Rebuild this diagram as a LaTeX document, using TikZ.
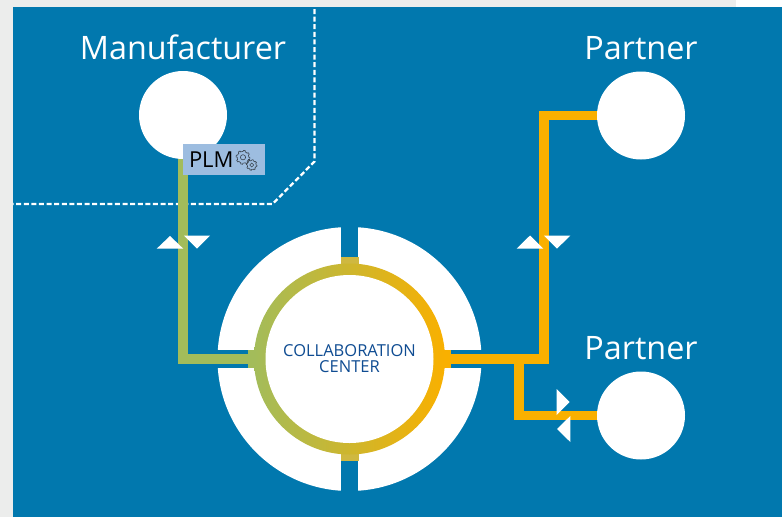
\documentclass[tikz,border=0pt]{standalone}
\usepackage{fontspec}
\setmainfont{Open Sans}
\usetikzlibrary{calc,positioning}
\definecolor{seablue}{HTML}{0178AE}
\definecolor{pagegray}{HTML}{ECEDEC}
\definecolor{limegreen}{HTML}{A3BC5A}
\definecolor{amber}{HTML}{F9B000}
\definecolor{midgold}{HTML}{CFB840}
\definecolor{plmblue}{HTML}{9DBDE0}
\definecolor{inkblue}{HTML}{0F4C92}
\definecolor{gearink}{HTML}{3A4550}
\tikzset{
  site/.style={circle,fill=white,inner sep=0pt,minimum size=88pt},
  heading/.style={text=white,font=\fontsize{32.3}{36}\selectfont,inner sep=0pt},
  wire/.style={line width=9.2pt},
  stub/.style={line width=18pt},
  border line/.style={white,line width=2.3pt,dash pattern=on 5pt off 2.6pt},
  tip/.style={fill=white}
}
\newcommand{\gearicon}[3]{%
  \filldraw[gearink,fill=plmblue,line width=.6pt] plot[samples=97,domain=0:360] ({#1+#3*(1+.2*(sin(8*\x)>0))*cos(\x)},{#2+#3*(1+.2*(sin(8*\x)>0))*sin(\x)}) -- cycle;
  \draw[gearink,line width=.6pt] (#1,#2) circle[radius=#3*.45];
}
\begin{document}
\begin{tikzpicture}[x=1pt,y=-1pt]
\useasboundingbox (0,0) rectangle (782,517);
% page and sea
\fill[pagegray] (0,0) rectangle (736,517);
\fill[white] (736,0) rectangle (782,7);
\fill[seablue] (13,7) rectangle (782,517);
% boundary of the manufacturer
\coordinate (bndtop) at (314.5,9);
\coordinate (bndcorner) at (314.5,161.5);
\coordinate (bndfoot) at (272.5,204);
\coordinate (bndleft) at (13,204);
\draw[border line] (bndtop) -- (bndcorner) -- (bndfoot) -- (bndleft);
% white quarters
\fill[white] (349.5,359) circle[radius=132];
\fill[seablue] (340.7,220) rectangle (358.3,500);
\fill[seablue] (210,350) rectangle (490,368);
% stubs of the ring
\draw[stub,midgold] (349.5,257) -- (349.5,461);
\draw[stub,limegreen] (247.5,359) -- (300,359);
\draw[stub,amber] (400,359) -- (451,359);
% nodes
\node[circle,inner sep=0pt,minimum size=191pt,left color=limegreen,right color=amber] (hub) at (349.5,359) {};
\node[circle,fill=white,inner sep=0pt,minimum size=168pt,align=center,text=inkblue,font=\fontsize{16.5}{16}\selectfont] (core) at (349.5,359) {COLLABORATION\\CENTER};
\node[site] (mfr) at (183,115) {};
\node[site] (partnertop) at (641,115.5) {};
\node[site] (partnerlow) at (641,415.5) {};
\node[heading,above=11pt of mfr] (mfrname) {Manufacturer};
\node[heading,above=11pt of partnertop] (topname) {Partner};
\node[heading,above=11pt of partnerlow] (lowname) {Partner};
% connectors
\coordinate (junction) at (544,359);
\coordinate (branch) at (519,359);
\draw[wire,limegreen] (mfr) |- (hub);
\draw[wire,amber] (hub) -- (junction) |- (partnertop);
\draw[wire,amber] (branch) |- (partnerlow);
% PLM box
\node[fill=plmblue,minimum width=82pt,minimum height=31pt,inner sep=0pt] (plm) at (224,159.5) {};
\node[right=6pt of plm.west,inner sep=0pt,text=black,font=\fontsize{22}{24}\selectfont] (plmtext) {PLM};
\gearicon{243}{157.3}{5.8}
\gearicon{251.7}{165}{4.4}
% direction tips
\fill[tip] (156.7,248.7) -- (170,236) -- (183.3,248.7) -- cycle;
\fill[tip] (184,235.5) -- (210,235.5) -- (197,248.7) -- cycle;
\fill[tip] (516.7,248.7) -- (530,235.5) -- (543.3,248.7) -- cycle;
\fill[tip] (544,235.5) -- (570.3,235.5) -- (557,248.7) -- cycle;
\fill[tip] (556.7,389) -- (569.7,402) -- (556.7,415) -- cycle;
\fill[tip] (570.3,416) -- (557,429) -- (570.3,442) -- cycle;
\end{tikzpicture}
\end{document}
